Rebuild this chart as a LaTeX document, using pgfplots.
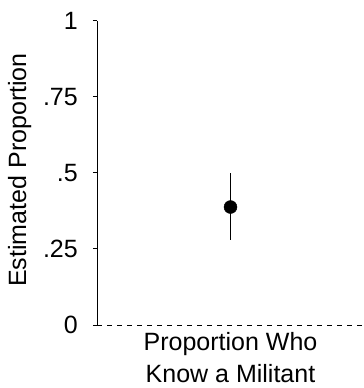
\documentclass[border=0pt]{standalone}
\usepackage{fontspec}
\setmainfont{Liberation Sans}
\usepackage{pgfplots}
\pgfplotsset{compat=1.18}
\begin{document}
\fontsize{25bp}{34.5bp}\selectfont
\begin{tikzpicture}[x=1bp,y=1bp]
\begin{axis}[
  at={(97bp,63bp)}, anchor=origin,
  scale only axis, width=267bp, height=304bp,
  xmin=0, xmax=2, ymin=0, ymax=1,
  axis y line*=left, axis x line=none,
  clip=false,
  ytick={0,0.25,0.5,0.75,1},
  yticklabels={0,.25,.5,.75,1},
  tick align=outside, major tick length=4bp,
  every tick/.style={black, line width=1bp},
  axis line style={line width=1bp, black},
  yticklabel style={anchor=east, inner sep=0pt, xshift=-15bp},
  /pgf/number format/assume math mode=true,
  ylabel={Estimated Proportion},
  ylabel style={at={(axis description cs:-0.29,0.51)}, anchor=center, inner sep=0pt},
]
\addplot[black, line width=0.9bp, dash pattern=on 5bp off 5bp] coordinates {(0,0) (2,0)};
\addplot[black, mark=*, mark size=6.5bp, only marks,
  error bars/.cd, y dir=both, y explicit, error mark=none,
  error bar style={line width=1.7bp, black}]
  coordinates {(1,0.388) += (0,0.113) -= (0,0.108)};
\node[anchor=north, align=center, inner sep=0pt, yshift=-7bp,
  font=\fontsize{25bp}{32bp}\selectfont]
  at (axis description cs:0.5,0) {Proportion Who\\Know a Militant};
\end{axis}
\pgfresetboundingbox
\useasboundingbox (0,0) rectangle (364,388);
\end{tikzpicture}
\end{document}
